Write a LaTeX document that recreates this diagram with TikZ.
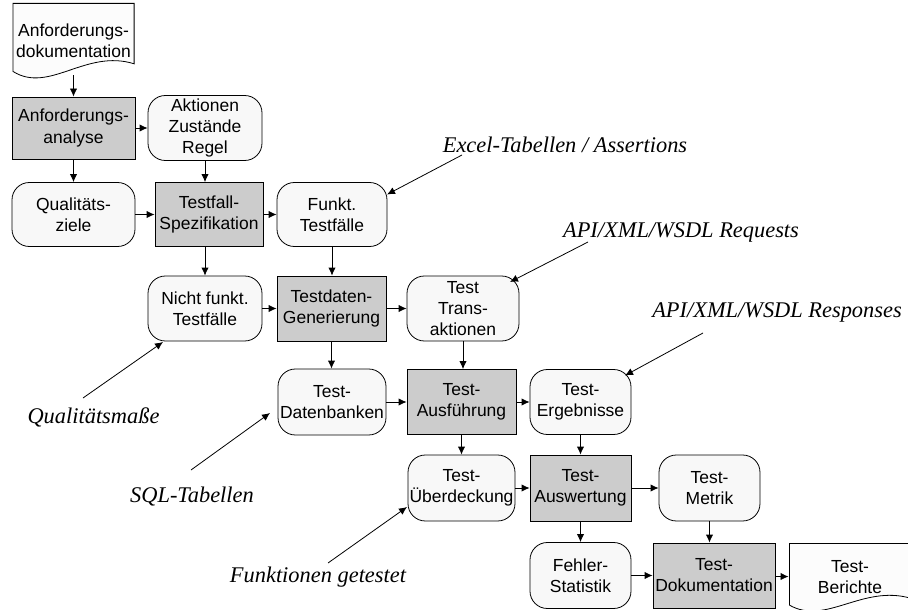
\documentclass[tikz,border=0pt]{standalone}
\usepackage{fontspec}
\newfontfamily\flowfam{Liberation Sans}
\newfontfamily\annotfam{Liberation Serif}
\usetikzlibrary{arrows.meta,calc}

\definecolor{procgray}{RGB}{204,204,204}
\definecolor{storefill}{RGB}{248,248,248}
\definecolor{docfill}{RGB}{252,252,252}

\tikzset{
  proc/.style={draw, fill=procgray, align=center, inner sep=1pt,
    font=\flowfam\fontsize{13.1}{15.8}\selectfont},
  store/.style={draw, fill=storefill, rounded corners=13pt, align=center, inner sep=1pt,
    font=\flowfam\fontsize{13.1}{15.8}\selectfont},
  docu/.style={align=center, inner sep=1pt,
    font=\flowfam\fontsize{13.1}{15.8}\selectfont,
    path picture={
      \draw[fill=docfill]
        let \p1=(path picture bounding box.south west),
            \p2=(path picture bounding box.north east),
            \n1={\x2-\x1}, \n2={\y2-\y1} in
        (\x1+0.3pt,\y2-0.3pt) -- (\x2-0.3pt,\y2-0.3pt) -- (\x2-0.3pt,\y1+0.2*\n2)
        .. controls (\x1+0.6*\n1,\y1+0.4*\n2) and (\x1+0.3*\n1,\y1-0.2*\n2)
        .. (\x1+0.3pt,\y1+0.1*\n2) -- cycle;
    }},
  annot/.style={font=\annotfam\itshape\fontsize{16.8}{20}\selectfont, inner sep=0pt}
}

\begin{document}
\begin{tikzpicture}[x=0.75pt, y=-0.75pt, >={Latex[length=6pt,width=5.5pt]}, line width=0.6pt]
    \useasboundingbox (0,0) rectangle (908,610);

    % Flow boxes
    \node[docu, minimum width=91.5pt, minimum height=57pt] (adoc) at (73.5,41) {Anforderungs-\\dokumentation};
    \node[proc, minimum width=92.25pt, minimum height=46.5pt] (analyse) at (73.5,128) {Anforderungs-\\analyse};
    \node[store, minimum width=85.5pt, minimum height=48.75pt] (aktionen) at (205,128) {Aktionen\\Zustände\\Regel};

    \node[store, minimum width=92.25pt, minimum height=48pt] (qziele) at (73.5,214.5) {Qualitäts-\\ziele};
    \node[proc, minimum width=81pt, minimum height=48pt] (tfspez) at (209,214.5) {Testfall-\\Spezifikation};
    \node[store, minimum width=82.5pt, minimum height=48pt] (funkt) at (332,214.5) {Funkt.\\Testfälle};

    \node[store, minimum width=85.5pt, minimum height=48.75pt] (nfunkt) at (205,308.5) {Nicht funkt.\\Testfälle};
    \node[proc, minimum width=81.75pt, minimum height=48.75pt] (tdgen) at (331.5,308.5) {Testdaten-\\Generierung};
    \node[store, minimum width=84pt, minimum height=48.75pt] (trans) at (463,308.5) {Test\\Trans-\\aktionen};

    \node[store, minimum width=81pt, minimum height=49.5pt] (tdb) at (332,402) {Test-\\Datenbanken};
    \node[proc, minimum width=81.75pt, minimum height=48.75pt] (ausf) at (461.5,402) {Test-\\Ausführung};
    \node[store, minimum width=75.75pt, minimum height=48.75pt] (ergeb) at (580.5,402) {Test-\\Ergebnisse};

    \node[store, minimum width=80.25pt, minimum height=49.5pt] (ueber) at (461.5,488) {Test-\\Überdeckung};
    \node[proc, minimum width=75.75pt, minimum height=49.5pt] (ausw) at (580.5,488) {Test-\\Auswertung};
    \node[store, minimum width=75.75pt, minimum height=49.5pt] (metrik) at (709.5,488) {Test-\\Metrik};

    \node[store, minimum width=75.75pt, minimum height=49.5pt] (fehler) at (580.5,575.5) {Fehler-\\Statistik};
    \node[proc, minimum width=91.5pt, minimum height=48.75pt] (tdoku) at (714,575.5) {Test-\\Dokumentation};
    \node[docu, minimum width=91.5pt, minimum height=51.75pt] (berichte) at (850,577.5) {Test-\\Berichte};

    % Flow arrows
    \draw[->] ([yshift=3pt]adoc.south) -- (analyse.north);
    \draw[->] (analyse) -- (aktionen);
    \draw[->] (analyse) -- (qziele);
    \draw[->] (aktionen.south) -- (aktionen.south |- tfspez.north);
    \draw[->] (qziele) -- (tfspez);
    \draw[->] (tfspez) -- (funkt);
    \draw[->] (nfunkt.north |- tfspez.south) -- (nfunkt.north);
    \draw[->] (funkt.south) -- (funkt.south |- tdgen.north);
    \draw[->] (nfunkt) -- (tdgen);
    \draw[->] (tdgen) -- (trans);
    \draw[->] (tdgen.south) -- (tdgen.south |- tdb.north);
    \draw[->] (trans.south) -- (trans.south |- ausf.north);
    \draw[->] (tdb) -- (ausf);
    \draw[->] (ausf) -- (ergeb);
    \draw[->] (ausf) -- (ueber);
    \draw[->] (ergeb) -- (ausw);
    \draw[->] (ueber) -- (ausw);
    \draw[->] (ausw) -- (metrik);
    \draw[->] (ausw) -- (fehler);
    \draw[->] (metrik.south) -- (metrik.south |- tdoku.north);
    \draw[->] (fehler) -- (tdoku);
    \draw[->] (tdoku) -- (berichte);

    % Annotations
    \node[annot] (excel) at (565,145) {Excel-Tabellen / Assertions};
    \node[annot] (req) at (681,232) {API/XML/WSDL Requests};
    \node[annot] (resp) at (777,312) {API/XML/WSDL Responses};
    \node[annot] (qmass) at (93.5,417) {Qualitätsmaße};
    \node[annot] (sql) at (192,497) {SQL-Tabellen};
    \node[annot] (fgetest) at (318,577) {Funktionen getestet};

    \coordinate (exceltail) at (462,155);
    \coordinate (reqtail) at (588,242);
    \coordinate (resptail) at (703,333);
    \coordinate (qmtail) at (83,398);
    \coordinate (sqltail) at (191,470);
    \coordinate (fgtail) at (328,563);

    \draw[->] (exceltail) -- ([shift={(55,-20)}]funkt.center);
    \draw[->] (reqtail) -- ([shift={(47,-26.5)}]trans.center);
    \draw[->] (resptail) -- ([shift={(44.5,-26.5)}]ergeb.center);
    \draw[->] (qmtail) -- ([shift={(-42,33.5)}]nfunkt.center);
    \draw[->] (sqltail) -- ([shift={(-62,11)}]tdb.center);
    \draw[->] (fgtail) -- ([shift={(-54.5,19)}]ueber.center);
\end{tikzpicture}
\end{document}
